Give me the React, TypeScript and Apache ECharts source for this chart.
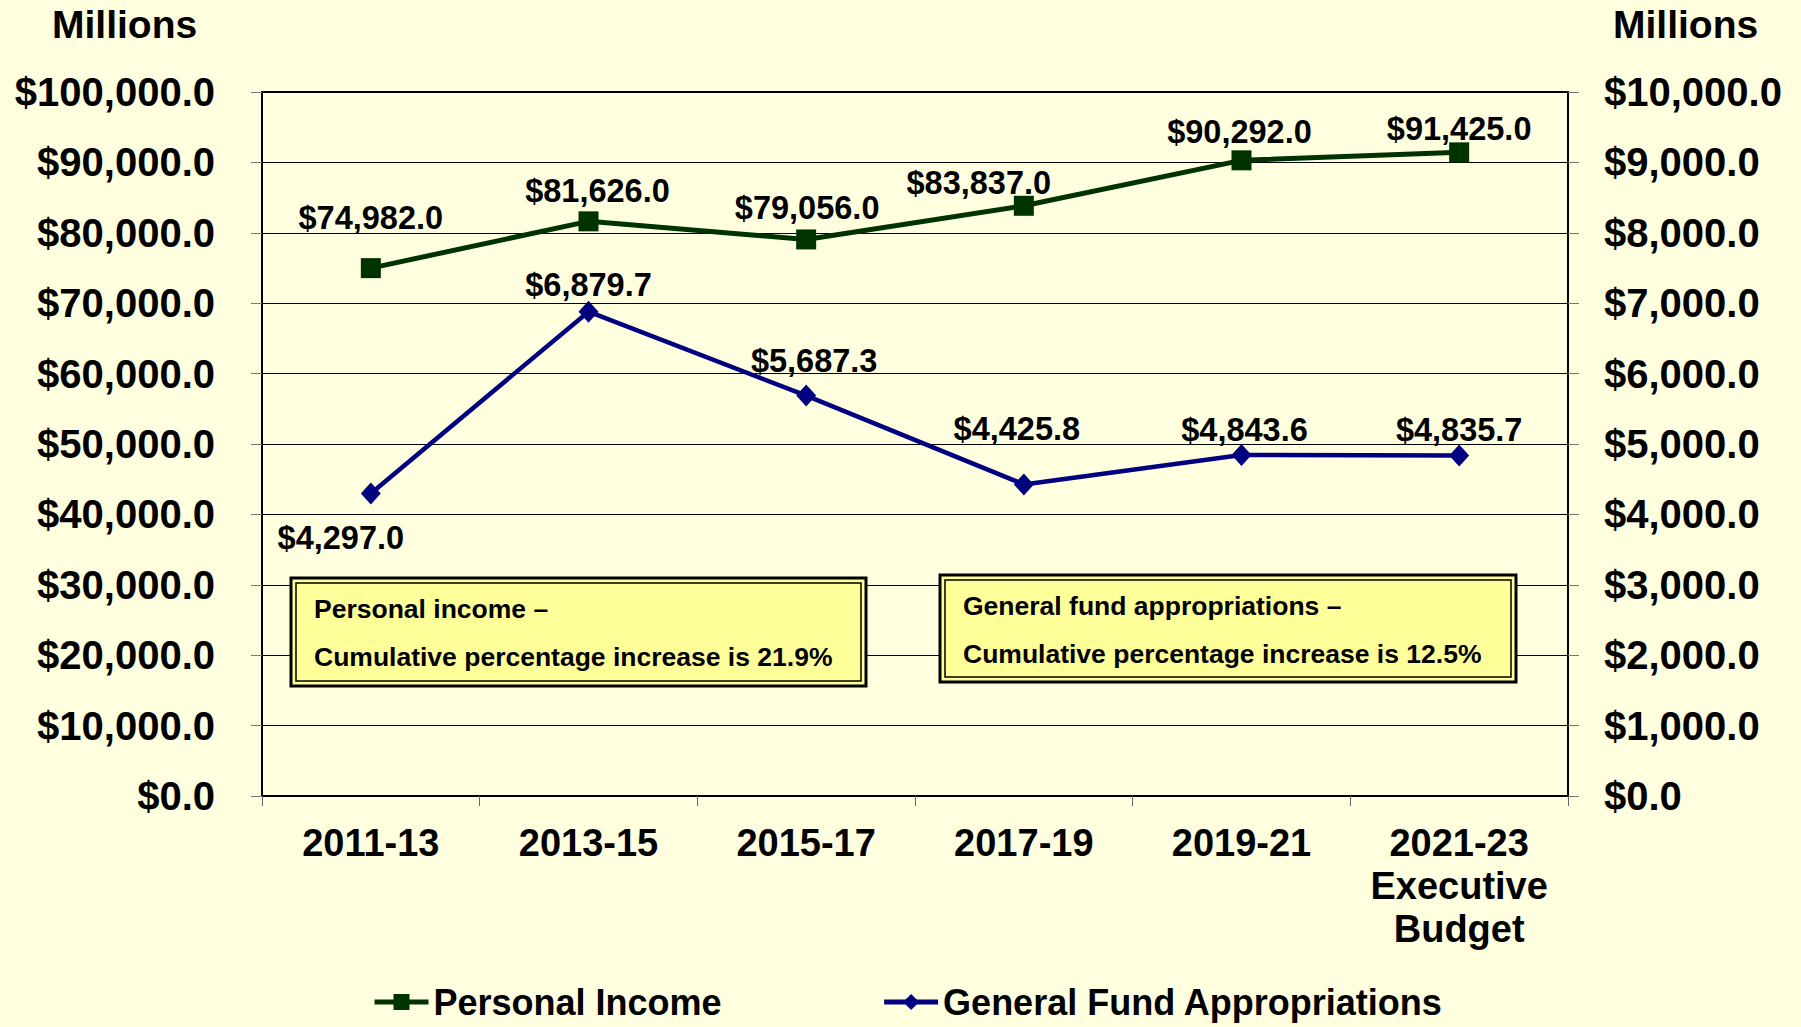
import React, { useEffect, useRef } from "react";
import * as echarts from "echarts";

const categories = ["2011-13", "2013-15", "2015-17", "2017-19", "2019-21", "2021-23\nExecutive\nBudget"];
const personalIncome = [74982.0, 81626.0, 79056.0, 83837.0, 90292.0, 91425.0];
const generalFund = [4297.0, 6879.7, 5687.3, 4425.8, 4843.6, 4835.7];
const leftTicks = { min: 0, max: 100000, interval: 10000 };
const rightTicks = { min: 0, max: 10000, interval: 1000 };
const seriesNames = ["Personal Income", "General Fund Appropriations"];
const boxTexts = [
  ["Personal income \u2013", "Cumulative percentage increase is 21.9%"],
  ["General fund appropriations \u2013", "Cumulative percentage increase is 12.5%"],
];

// label offsets (layout only)
const piLabelOffsets = [[0, -50], [9, -30], [1, -31], [-45, -23], [-2, -28], [0, -23]];
const gfLabelOffsets = [[-30, 45], [0, -27], [8, -35], [-7, -55], [3, -25], [0, -26]];

const FONT = "'Liberation Sans', Arial, sans-serif";
const GREEN = "#003300";
const NAVY = "#000080";

const money = (v: number) =>
  "$" + v.toLocaleString("en-US", { minimumFractionDigits: 1, maximumFractionDigits: 1 });

function annotation(x: number, y: number, w: number, h: number, lines: string[]) {
  return {
    type: "group",
    x,
    y,
    z: 100,
    children: [
      { type: "rect", z: 100, shape: { x: 0, y: 0, width: w, height: h }, style: { fill: "#FFFF99", stroke: "#000", lineWidth: 3 } },
      { type: "rect", z: 101, shape: { x: 5, y: 5, width: w - 10, height: h - 10 }, style: { fill: "none", stroke: "#000", lineWidth: 1.5 } },
      { type: "text", z: 102, x: 23, y: 31, style: { text: lines[0], font: `bold 26.5px ${FONT}`, fill: "#000", textVerticalAlign: "middle" } },
      { type: "text", z: 102, x: 23, y: 79, style: { text: lines[1], font: `bold 26.5px ${FONT}`, fill: "#000", textVerticalAlign: "middle" } },
    ],
  };
}

export default function App() {
  const ref = useRef<HTMLDivElement>(null);
  useEffect(() => {
    document.body.style.margin = "0";
    const chart = echarts.init(ref.current!, null, { renderer: "svg" });
    const labelBase = {
      show: true,
      position: "inside",
      fontSize: 32.5,
      fontWeight: "bold",
      fontFamily: FONT,
      color: "#000",
      formatter: (p: any) => money(p.value),
    };
    chart.setOption({
      animation: false,
      backgroundColor: "#FFFFE0",
      textStyle: { fontFamily: FONT },
      grid: { left: 262, right: 233, top: 92, bottom: 231, show: true, borderColor: "#000", borderWidth: 2, backgroundColor: "transparent" },
      xAxis: {
        type: "category",
        data: categories,
        boundaryGap: true,
        axisLine: { lineStyle: { color: "#000", width: 2 } },
        axisTick: { show: true, length: 10, interval: 0, lineStyle: { color: "#666", width: 1 } },
        axisLabel: { interval: 0, fontSize: 38, fontWeight: "bold", color: "#000", fontFamily: FONT, lineHeight: 43, margin: 25 },
      },
      yAxis: [
        {
          type: "value",
          min: leftTicks.min,
          max: leftTicks.max,
          interval: leftTicks.interval,
          axisLine: { show: true, lineStyle: { color: "#000", width: 2 } },
          axisTick: { show: true, length: 11, lineStyle: { color: "#777", width: 1 } },
          splitLine: { show: true, lineStyle: { color: "#000", width: 1 } },
          axisLabel: { fontSize: 40, fontWeight: "bold", color: "#000", fontFamily: FONT, margin: 47, formatter: (v: number) => money(v) },
        },
        {
          type: "value",
          min: rightTicks.min,
          max: rightTicks.max,
          interval: rightTicks.interval,
          position: "right",
          axisLine: { show: true, lineStyle: { color: "#000", width: 2 } },
          axisTick: { show: true, length: 11, lineStyle: { color: "#777", width: 1 } },
          splitLine: { show: false },
          axisLabel: { fontSize: 40, fontWeight: "bold", color: "#000", fontFamily: FONT, margin: 36, formatter: (v: number) => money(v) },
        },
      ],
      legend: {
        left: 372,
        top: 984,
        padding: 0,
        itemWidth: 54,
        itemHeight: 20,
        itemGap: 160,
        lineStyle: { width: 5 },
        textStyle: { fontSize: 36, fontWeight: "bold", color: "#000", fontFamily: FONT },
        data: seriesNames,
      },
      series: [
        {
          name: seriesNames[0],
          type: "line",
          yAxisIndex: 0,
          symbol: "rect",
          symbolSize: 20,
          itemStyle: { color: GREEN },
          lineStyle: { color: GREEN, width: 5 },
          data: personalIncome.map((v, i) => ({ value: v, label: { ...labelBase, offset: piLabelOffsets[i] } })),
          z: 3,
        },
        {
          name: seriesNames[1],
          type: "line",
          yAxisIndex: 1,
          symbol: "diamond",
          symbolSize: [20, 22],
          itemStyle: { color: NAVY },
          lineStyle: { color: NAVY, width: 4.5 },
          data: generalFund.map((v, i) => ({ value: v, label: { ...labelBase, offset: gfLabelOffsets[i] } })),
          z: 3,
        },
      ],
      graphic: [
        { type: "text", left: 52, top: 5, style: { text: "Millions", font: `bold 39px ${FONT}`, fill: "#000" } },
        { type: "text", left: 1613, top: 5, style: { text: "Millions", font: `bold 39px ${FONT}`, fill: "#000" } },
        annotation(291, 578, 575, 108, boxTexts[0]),
        annotation(940, 575, 576, 107, boxTexts[1]),
      ],
    });
    return () => chart.dispose();
  }, []);
  return <div ref={ref} style={{ position: "fixed", left: 0, top: 0, width: 1801, height: 1027 }} />;
}
